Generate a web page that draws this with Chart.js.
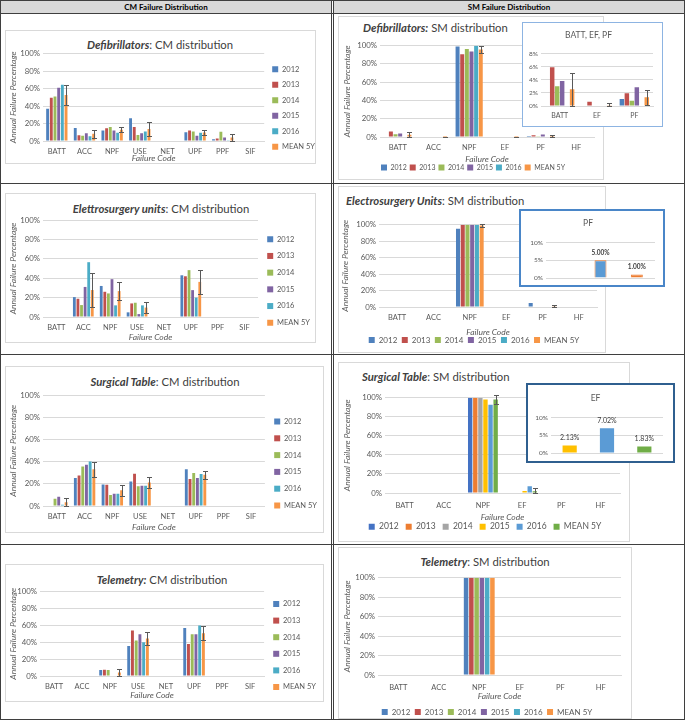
<!DOCTYPE html>
<html>
<head>
<meta charset="utf-8">
<title>CM / SM failure distribution</title>
<script src="https://cdn.jsdelivr.net/npm/chart.js@4.4.1/dist/chart.umd.min.js"></script>
<style>
  body { margin: 0; background: #fff; font-family: Lato, "Open Sans", sans-serif; }
  #page { position: relative; width: 685px; height: 721px; overflow: hidden; }
  .hl, .vl { position: absolute; background: #3f3f3f; }
  .hl { height: 1px; }
  .vl { width: 1px; }
  .head { position: absolute; top: 1px; height: 12px; background: #d9d9d9; font-weight: bold;
          font-size: 8px; line-height: 12px; text-align: center; color: #000; }
  .box { position: absolute; border: 1px solid #d9d9d9; box-sizing: border-box; }
  .ttl { position: absolute; font-size: 11.3px; line-height: 12px; color: #404040; white-space: nowrap; }
  .ttl b { font-style: italic; }
  .cv { position: absolute; }
  .inset { position: absolute; background: #fff; box-sizing: border-box; }
</style>
</head>
<body>
<div id="page">
  <div class="head" style="left:1px;width:330px">CM Failure Distribution</div>
  <div class="head" style="left:334px;width:350px">SM Failure Distribution</div>

  <div class="hl" style="left:0;top:0;width:685px"></div>
  <div class="hl" style="left:0;top:13px;width:685px"></div>
  <div class="hl" style="left:0;top:183px;width:685px"></div>
  <div class="hl" style="left:0;top:354px;width:685px"></div>
  <div class="hl" style="left:0;top:544px;width:685px"></div>
  <div class="hl" style="left:0;top:719px;width:685px"></div>
  <div class="vl" style="left:0;top:0;height:720px"></div>
  <div class="vl" style="left:331px;top:0;height:720px"></div>
  <div class="vl" style="left:333px;top:0;height:720px"></div>
  <div class="vl" style="left:684px;top:0;height:720px"></div>

  <!-- chart frames -->
  <div class="box" style="left:5px;top:30px;width:311px;height:134px"></div>
  <div class="box" style="left:5px;top:193px;width:311px;height:150px"></div>
  <div class="box" style="left:5px;top:366px;width:319px;height:167px"></div>
  <div class="box" style="left:5px;top:564px;width:319px;height:138px"></div>
  <div class="box" style="left:338px;top:16px;width:266px;height:164px"></div>
  <div class="box" style="left:338px;top:186px;width:268px;height:167px"></div>
  <div class="box" style="left:338px;top:362px;width:292px;height:180px"></div>
  <div class="box" style="left:338px;top:547px;width:294px;height:172px"></div>

  <!-- titles -->
  <div class="ttl" style="left:60px;top:39px;width:200px;text-align:center"><b>Defibrillators</b>: CM distribution</div>
  <div class="ttl" style="left:61px;top:203px;width:200px;text-align:center"><b>Elettrosurgery units</b>: CM distribution</div>
  <div class="ttl" style="left:65px;top:376px;width:200px;text-align:center"><b>Surgical Table</b>: CM distribution</div>
  <div class="ttl" style="left:62px;top:574px;width:200px;text-align:center"><b>Telemetry:</b> CM distribution</div>
  <div class="ttl" style="left:363px;top:22px"><b>Defibrillators:</b> SM distribution</div>
  <div class="ttl" style="left:346px;top:195px"><b>Electrosurgery Units</b>: SM distribution</div>
  <div class="ttl" style="left:362px;top:371px"><b>Surgical Table</b>: SM distribution</div>
  <div class="ttl" style="left:385px;top:556px;width:200px;text-align:center"><b>Telemetry</b>: SM distribution</div>

  <!-- main charts -->
  <div class="cv" style="left:6px;top:46px;width:319px;height:117px"><canvas id="defibCm"></canvas></div>
  <div class="cv" style="left:6px;top:212px;width:314px;height:130px"><canvas id="esuCm"></canvas></div>
  <div class="cv" style="left:6px;top:388px;width:321px;height:144px"><canvas id="tableCm"></canvas></div>
  <div class="cv" style="left:6px;top:584px;width:320px;height:116px"><canvas id="teleCm"></canvas></div>
  <div class="cv" style="left:340px;top:38px;width:266px;height:143px"><canvas id="defibSm"></canvas></div>
  <div class="cv" style="left:338px;top:217px;width:272px;height:137px"><canvas id="esuSm"></canvas></div>
  <div class="cv" style="left:340px;top:390px;width:290px;height:151px"><canvas id="tableSm"></canvas></div>
  <div class="cv" style="left:340px;top:570px;width:294px;height:156px"><canvas id="teleSm"></canvas></div>

  <!-- insets -->
  <div class="inset" style="left:522px;top:22px;width:141px;height:105px;border:1.5px solid #8db4e2"></div>
  <div class="cv" style="left:524px;top:24px;width:137px;height:101px"><canvas id="defibInset"></canvas></div>
  <div class="inset" style="left:519px;top:209px;width:146px;height:78px;border:2px solid #4a86c8"></div>
  <div class="cv" style="left:521px;top:211px;width:142px;height:74px"><canvas id="esuInset"></canvas></div>
  <div class="inset" style="left:526px;top:383px;width:149px;height:80px;border:2px solid #2f5f8f"></div>
  <div class="cv" style="left:528px;top:385px;width:145px;height:76px"><canvas id="tableInset"></canvas></div>
</div>

<script>
// ---- data (percent of annual failures) ----
const years = ['2012', '2013', '2014', '2015', '2016', 'MEAN 5Y'];
const cmCodes = ['BATT', 'ACC', 'NPF', 'USE', 'NET', 'UPF', 'PPF', 'SIF'];
const smCodes = ['BATT', 'ACC', 'NPF', 'EF', 'PF', 'HF'];

// rows: 2012, 2013, 2014, 2015, 2016, MEAN 5Y
const defibCM = [
  [37, 15, 12, 26, 0, 10, 2, 0],
  [49.5, 6.5, 14.5, 16, 0, 12, 3, 0],
  [51, 6, 16, 7, 0, 11, 10.5, 0],
  [61, 8.8, 12, 9, 0, 6, 4, 0],
  [64.5, 5.3, 9.5, 11, 0, 9.5, 1, 0],
  [52.6, 8.3, 12.8, 13.8, 0, 9.7, 4.1, 0]
];
const defibCMErr = [11, 4.6, 2.7, 7.6, 0, 2.4, 3.6, 0];

const esuCM = [
  [0, 20.5, 32, 4.8, 0, 43, 0, 0],
  [0, 18.8, 26, 14, 0, 42, 0, 0],
  [0, 12.3, 24.3, 14.7, 0, 48.3, 0, 0],
  [0, 31, 39, 3, 0, 27.7, 0, 0],
  [0, 56.5, 12, 12, 0, 20, 0, 0],
  [0, 27.8, 26.7, 9.7, 0, 36.2, 0, 0]
];
const esuCMErr = [0, 17.5, 9.6, 5.5, 0, 12, 0, 0];

const tableCM = [
  [0, 25.3, 19.6, 22.3, 0, 33.4, 0, 0],
  [0, 27.7, 19.3, 29.2, 0, 24.4, 0, 0],
  [6.6, 35.8, 10, 17.8, 0, 29.8, 0, 0],
  [8.4, 37.3, 11, 18.4, 0, 25.3, 0, 0],
  [1.2, 40.4, 11, 18.4, 0, 29, 0, 0],
  [3.4, 33.3, 14.2, 21.2, 0, 28.4, 0, 0]
];
const tableCMErr = [3.8, 6.8, 5, 5, 0, 3.6, 0, 0];

const teleCM = [
  [0, 0, 7, 35.5, 0, 57, 0, 0],
  [0, 0, 7.4, 54, 0, 38, 0, 0],
  [0, 0, 7, 42, 0, 49.6, 0, 0],
  [0, 0, 0, 49.6, 0, 49.6, 0, 0],
  [0, 0, 0, 40, 0, 60, 0, 0],
  [0, 0, 4.1, 44.5, 0, 50.8, 0, 0]
];
const teleCMErr = [0, 0, 3.9, 7.6, 0, 8, 0, 0];

const defibSM = [
  [0, 0, 99, 0, 1.05, 0],
  [5.9, 0, 90.5, 0.65, 1.95, 0],
  [3, 0, 96.4, 0, 0.8, 0],
  [3.8, 0.5, 93.5, 0, 2.85, 0],
  [0, 0, 100, 0, 0, 0],
  [2.55, 0.1, 95.9, 0.13, 1.33, 0]
];
const defibSMErr = [2.55, 0.3, 3.7, 0.4, 1.15, 0];

const esuSM = [
  [0, 0, 95, 0, 5, 0],
  [0, 0, 100, 0, 0, 0],
  [0, 0, 100, 0, 0, 0],
  [0, 0, 100, 0, 0, 0],
  [0, 0, 100, 0, 0, 0],
  [0, 0, 99, 0, 1, 0]
];
const esuSMErr = [0, 0, 2, 0, 1.8, 0];

const tableSM = [
  [0, 0, 100, 0, 0, 0],
  [0, 0, 100, 0, 0, 0],
  [0, 0, 100, 0, 0, 0],
  [0, 0, 98, 2.13, 0, 0],
  [0, 0, 92.7, 7.02, 0, 0],
  [0, 0, 98.2, 1.83, 0, 0]
];
const tableSMErr = [0, 0, 4.4, 2.9, 0, 0];

const teleSM = [
  [0, 0, 100, 0, 0, 0],
  [0, 0, 100, 0, 0, 0],
  [0, 0, 100, 0, 0, 0],
  [0, 0, 100, 0, 0, 0],
  [0, 0, 100, 0, 0, 0],
  [0, 0, 100, 0, 0, 0]
];
const teleSMErr = [0, 0, 0, 0, 0, 0];

// zoomed insets
const defibInsetCodes = ['BATT', 'EF', 'PF'];
const esuInsetLabels = ['', '2012', 'MEAN 5Y'];
const esuInsetValues = [null, 5, 1];
const tableInsetLabels = ['2015', '2016', 'MEAN 5Y'];
const tableInsetValues = [2.13, 7.02, 1.83];

// ---- styling ----
const FONT = 'Lato, "Open Sans", sans-serif';
const TXT = '#595959';
const GRID = '#d9d9d9';
const office2007 = ['#4f81bd', '#c0504d', '#9bbb59', '#8064a2', '#4bacc6', '#f79646'];
const office2013 = ['#4472c4', '#ed7d31', '#a5a5a5', '#ffc000', '#5b9bd5', '#70ad47'];

// error bars on the MEAN 5Y series
const errorBars = {
  id: 'errorBars',
  afterDatasetsDraw(chart) {
    const ctx = chart.ctx;
    const y = chart.scales.y;
    chart.data.datasets.forEach((ds, di) => {
      if (!ds.errors) return;
      chart.getDatasetMeta(di).data.forEach((bar, i) => {
        const e = ds.errors[i];
        if (!e) return;
        const v = ds.data[i];
        const top = Math.round(y.getPixelForValue(v + e)) + 0.5;
        const bot = Math.round(y.getPixelForValue(Math.max(y.min, v - e))) + 0.5;
        const x = Math.round(bar.x) + 0.5;
        ctx.save();
        ctx.strokeStyle = '#595959';
        ctx.lineWidth = 1;
        ctx.beginPath();
        ctx.moveTo(x, top); ctx.lineTo(x, bot);
        ctx.moveTo(x - 2.5, top); ctx.lineTo(x + 2.5, top);
        ctx.moveTo(x - 2.5, bot); ctx.lineTo(x + 2.5, bot);
        ctx.stroke();
        ctx.restore();
      });
    });
  }
};

// value labels above the inset bars
const valueLabels = {
  id: 'valueLabels',
  afterDatasetsDraw(chart) {
    const ctx = chart.ctx;
    chart.data.datasets.forEach((ds, di) => {
      if (!ds.valueLabel) return;
      chart.getDatasetMeta(di).data.forEach((bar, i) => {
        const v = ds.data[i];
        if (v == null) return;
        ctx.save();
        ctx.font = ds.valueLabel.font;
        ctx.fillStyle = ds.valueLabel.color;
        ctx.textAlign = 'center';
        ctx.textBaseline = 'bottom';
        ctx.fillText(v.toFixed(2) + '%', bar.x, bar.y - 4);
        ctx.restore();
      });
    });
  }
};

Chart.register(errorBars, valueLabels);

function mainChart(id, labels, rows, errs, colors, o) {
  const datasets = rows.map((row, i) => ({
    label: years[i],
    data: row,
    backgroundColor: colors[i],
    borderWidth: 0,
    categoryPercentage: o.cat,
    barPercentage: o.bar,
    errors: i === rows.length - 1 ? errs : null
  }));
  const scales = {
    x: {
      grid: { display: false, drawTicks: false },
      border: { color: GRID },
      ticks: { color: TXT, font: { family: FONT, size: 7.5 }, padding: o.tickPad, maxRotation: 0, autoSkip: false },
      title: {
        display: true, text: 'Failure Code', color: TXT,
        font: { family: FONT, size: 8.5, style: 'italic' }, padding: { top: 0, bottom: o.xtPad }
      },
      afterFit: s => { s.height = o.xh; }
    },
    y: {
      min: 0, max: 100,
      ticks: { stepSize: 20, callback: v => v + '%', color: TXT, font: { family: FONT, size: 7.8 }, padding: 3 },
      grid: { color: GRID, drawTicks: false },
      border: { display: false },
      title: {
        display: true, text: 'Annual Failure Percentage', color: TXT,
        font: { family: FONT, size: 8.5, style: 'italic' }, padding: { top: 2, bottom: 0 }
      },
      afterFit: s => { s.width = o.yw; }
    }
  };
  if (o.gap) {
    // empty strip right of the plot, keeps the bottom legend centred on the frame
    scales.gap = {
      type: 'linear', position: 'right',
      grid: { display: false, drawTicks: false }, ticks: { display: false }, border: { display: false },
      afterFit: s => { s.width = o.gap; }
    };
  }
  return new Chart(document.getElementById(id), {
    type: 'bar',
    data: { labels: labels, datasets: datasets },
    options: {
      responsive: true,
      maintainAspectRatio: false,
      animation: false,
      layout: { padding: { top: o.padTop, right: 0, bottom: 0, left: 0 } },
      plugins: {
        tooltip: { enabled: false },
        legend: {
          position: o.legend,
          labels: { boxWidth: 6, boxHeight: 6, padding: o.legPad, color: TXT, font: { family: FONT, size: o.legFont } }
        }
      },
      scales: scales
    }
  });
}

function insetChart(id, labels, datasets, o) {
  return new Chart(document.getElementById(id), {
    type: 'bar',
    data: { labels: labels, datasets: datasets },
    options: {
      responsive: true,
      maintainAspectRatio: false,
      animation: false,
      layout: { padding: { top: 0, right: o.padR, bottom: o.padB || 0, left: 0 } },
      plugins: {
        tooltip: { enabled: false },
        legend: { display: false },
        title: {
          display: true, text: o.title, color: TXT,
          font: { family: FONT, size: 8.5, weight: 'normal' }, padding: { top: o.tt, bottom: o.tb }
        }
      },
      scales: {
        x: {
          display: o.showX,
          grid: { display: false, drawTicks: false },
          border: { color: GRID },
          ticks: { color: TXT, font: { family: FONT, size: 7 }, padding: 6 },
          afterFit: s => { s.height = o.xh || 0; }
        },
        y: {
          min: 0, max: o.max,
          ticks: { stepSize: o.step, callback: v => v + '%', color: TXT, font: { family: FONT, size: 6.5 }, padding: 3 },
          grid: { color: GRID, drawTicks: false },
          border: { display: false },
          afterFit: s => { s.width = o.yw; }
        }
      }
    }
  });
}

const cmOpts = { legend: 'right', legFont: 7.5, cat: 0.8, bar: 0.78, tickPad: 6, xtPad: 0 };
mainChart('defibCm', cmCodes, defibCM, defibCMErr, office2007, Object.assign({}, cmOpts, { padTop: 7, yw: 37, xh: 22, legPad: 8 }));
mainChart('esuCm', cmCodes, esuCM, esuCMErr, office2007, Object.assign({}, cmOpts, { padTop: 8, yw: 37, xh: 25, legPad: 9.2 }));
mainChart('tableCm', cmCodes, tableCM, tableCMErr, office2007, Object.assign({}, cmOpts, { padTop: 7, yw: 37, xh: 26, legPad: 9.3 }));
mainChart('teleCm', cmCodes, teleCM, teleCMErr, office2007, Object.assign({}, cmOpts, { padTop: 7, yw: 34, xh: 24, legPad: 9.1 }));

const smOpts = { legend: 'bottom', cat: 0.78, bar: 0.86, tickPad: 6 };
mainChart('defibSm', smCodes, defibSM, defibSMErr, office2007,
  Object.assign({}, smOpts, { padTop: 7, yw: 40, gap: 12, xh: 24, xtPad: -3.1, legFont: 7, legPad: 3 }));
mainChart('esuSm', smCodes, esuSM, esuSMErr, office2007,
  Object.assign({}, smOpts, { padTop: 7, yw: 41, gap: 13, xh: 24.5, xtPad: -5.6, legFont: 8, legPad: 4.5 }));
mainChart('tableSm', smCodes, tableSM, tableSMErr, office2013,
  Object.assign({}, smOpts, { padTop: 7, yw: 45, gap: 10, xh: 22.5, xtPad: -6.6, legFont: 8.5, legPad: 7, tickPad: 8 }));
mainChart('teleSm', smCodes, teleSM, teleSMErr, office2007,
  Object.assign({}, smOpts, { padTop: 7, yw: 38, gap: 13, xh: 28.5, xtPad: 2.4, legFont: 8, legPad: 4.5, tickPad: 8 }));

// Defibrillators inset: BATT, EF, PF columns of the SM table
const pick = defibInsetCodes.map(c => smCodes.indexOf(c));
insetChart('defibInset', defibInsetCodes, defibSM.map((row, i) => ({
  label: years[i],
  data: pick.map(k => row[k]),
  backgroundColor: office2007[i],
  borderWidth: 0,
  categoryPercentage: 0.8,
  barPercentage: 0.9,
  errors: i === defibSM.length - 1 ? pick.map(k => defibSMErr[k]) : null
})), { title: 'BATT, EF, PF', tt: 6, tb: 13.4, yw: 17, padR: 8, showX: true, xh: 19, max: 8, step: 2 });

insetChart('esuInset', esuInsetLabels, [{
  label: 'PF',
  data: esuInsetValues,
  backgroundColor: ['#5b9bd5', '#5b9bd5', '#ed7d31'],
  borderColor: '#ed7d31',
  borderWidth: 1,
  categoryPercentage: 1,
  barPercentage: 0.33,
  valueLabel: { font: 'bold 6.5px ' + FONT, color: '#404040' }
}], { title: 'PF', tt: 7.2, tb: 14.2, yw: 25, padR: 8, padB: 7, showX: false, max: 10, step: 5 });

insetChart('tableInset', tableInsetLabels, [{
  label: 'EF',
  data: tableInsetValues,
  backgroundColor: [office2013[3], office2013[4], office2013[5]],
  borderWidth: 0,
  categoryPercentage: 1,
  barPercentage: 0.38,
  valueLabel: { font: '7px ' + FONT, color: '#404040' }
}], { title: 'EF', tt: 8.2, tb: 14.2, yw: 23, padR: 10, padB: 8, showX: false, max: 10, step: 5 });
</script>
</body>
</html>
